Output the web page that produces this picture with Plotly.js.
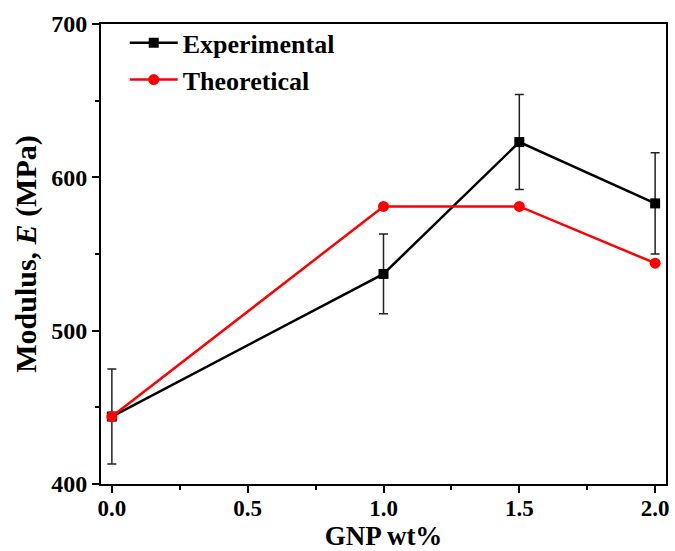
<!DOCTYPE html>
<html>
<head>
<meta charset="utf-8">
<script src="https://cdn.plot.ly/plotly-3.0.1.min.js"></script>
<style>html,body{margin:0;padding:0;background:#fff;}#chart{width:675px;height:551px;}</style>
</head>
<body>
<div id="chart"></div>
<script>
const gnp = [0.0, 1.0, 1.5, 2.0];
const experimental = [444, 537, 623, 583];
const experimentalErr = [31, 26, 31, 33];
const theoretical = [444, 581, 581, 544];
const xTicks = [0.0, 0.5, 1.0, 1.5, 2.0];
const xTickLabels = ['0.0', '0.5', '1.0', '1.5', '2.0'];
const yTicks = [400, 500, 600, 700];

const font = 'Liberation Serif, Times New Roman, serif';

const traces = [
  {
    x: gnp, y: experimental, name: 'Experimental', type: 'scatter', mode: 'lines+markers',
    line: {color: '#000000', width: 2.5},
    marker: {symbol: 'square', size: 10, color: '#000000'},
    error_y: {type: 'data', array: experimentalErr, visible: true, color: '#222222', thickness: 1.5, width: 4.5}
  },
  {
    x: gnp, y: theoretical, name: 'Theoretical', type: 'scatter', mode: 'lines+markers',
    line: {color: '#ff0000', width: 2.5},
    marker: {symbol: 'circle', size: 11, color: '#ff0000'}
  }
];

const axisCommon = {
  showline: true, linecolor: '#000', linewidth: 2, mirror: true,
  ticks: 'outside', ticklen: 7, tickwidth: 2, tickcolor: '#000',
  showgrid: false, zeroline: false,
  tickfont: {family: font, size: 24, color: '#000', weight: 'bold'},
  minor: {ticks: 'outside', ticklen: 4, tickwidth: 2, tickcolor: '#000'}
};

const layout = {
  width: 675, height: 551,
  margin: {l: 101, r: 9, t: 24, b: 67},
  paper_bgcolor: '#fff', plot_bgcolor: '#fff',
  showlegend: true,
  legend: {
    x: 0.042, y: 1.01, xanchor: 'left', yanchor: 'top',
    itemwidth: 48,
    font: {family: font, size: 26, color: '#000', weight: 'bold'},
    bgcolor: 'rgba(0,0,0,0)', borderwidth: 0, tracegroupgap: 0
  },
  xaxis: Object.assign({}, axisCommon, {
    range: [-0.04, 2.04],
    tickvals: xTicks, ticktext: xTickLabels,
    tickfont: {family: font, size: 23, color: '#000', weight: 'bold'},
    ticklabelstandoff: -5,
    minor: Object.assign({}, axisCommon.minor, {dtick: 0.25, tick0: 0}),
    title: {text: 'GNP wt%', font: {family: font, size: 27, color: '#000', weight: 'bold'}, standoff: 4}
  }),
  yaxis: Object.assign({}, axisCommon, {
    range: [400, 700],
    tickvals: yTicks,
    minor: Object.assign({}, axisCommon.minor, {dtick: 50, tick0: 400}),
    title: {text: 'Modulus, <i>E</i> (MPa)', font: {family: font, size: 30, color: '#000', weight: 'bold'}, standoff: 6}
  })
};

Plotly.newPlot('chart', traces, layout, {displayModeBar: false, staticPlot: true});
</script>
</body>
</html>
